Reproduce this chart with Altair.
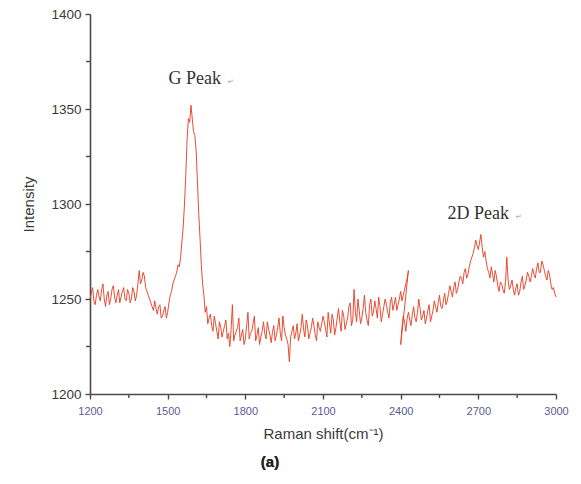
import altair as alt
import pandas as pd

# ---- data (Raman spectrum, two stitched segments) ----
STEP = 10
seg1_start = 1200   # first acquisition window: 1200 .. 2430 cm-1 (values at 1200, 1210, ...)
seg1_intensity = [
    1250, 1256, 1247, 1255, 1249, 1258, 1246, 1254, 1250, 1257,
    1248, 1255, 1251, 1256, 1249, 1253, 1250, 1254, 1252,
    1265, 1260, 1262, 1254, 1250, 1246, 1249, 1242, 1247, 1241,
    1246, 1243, 1252, 1258, 1262, 1268, 1272, 1288, 1315, 1345,
    1352, 1338, 1328, 1295, 1268, 1252, 1246,
    1240, 1236, 1241, 1233, 1238, 1230, 1236, 1229, 1225, 1247,
    1231, 1235, 1228, 1234, 1229, 1243, 1232, 1237, 1228, 1235,
    1230, 1238, 1229, 1234, 1227, 1236, 1231, 1240, 1228, 1235,
    1229, 1217, 1233, 1229, 1237, 1231, 1242, 1230, 1236, 1232,
    1240, 1231, 1238, 1233, 1241,
    1234, 1243, 1232, 1239, 1235, 1245, 1233, 1241, 1237, 1246,
    1236, 1255, 1238, 1244, 1240, 1252, 1239, 1247, 1241, 1249,
    1240, 1246, 1242, 1250, 1243, 1248, 1244, 1251, 1247, 1254,
    1252, 1258, 1265,
]
# readings half-way between (1205, 1215, ... 2425)
seg1_mid = [
    1253, 1249, 1252, 1251, 1255, 1250, 1252, 1247, 1255, 1251,
    1252, 1248, 1254, 1250, 1255, 1248, 1256, 1249,
    1258,
    1258, 1264, 1256, 1252, 1248, 1244, 1245, 1246, 1240, 1244,
    1240, 1248, 1254, 1260, 1264, 1267, 1280, 1300, 1334, 1343,
    1345, 1336, 1312, 1282, 1258, 1243,
    1237, 1242, 1233, 1237, 1229, 1235, 1233, 1239, 1232, 1234,
    1228, 1233, 1240, 1231, 1226, 1236, 1229, 1233, 1241, 1231,
    1226, 1233, 1232, 1238, 1231, 1233, 1228, 1235, 1232, 1241,
    1231, 1226, 1230, 1236, 1232, 1228, 1235, 1234, 1239, 1229,
    1235, 1236, 1228, 1235, 1237,
    1238, 1230, 1237, 1242, 1231, 1240, 1238, 1244, 1234, 1240,
    1248, 1239, 1243, 1250, 1237, 1245, 1243, 1236, 1250, 1243,
    1245, 1251, 1238, 1246, 1247, 1240, 1251, 1247, 1244, 1250,
    1249, 1255, 1261,
]
seg2_start = 2400   # second acquisition window: 2400 .. 3000 cm-1
seg2_intensity = [
    1226, 1241, 1233, 1243, 1236, 1246, 1238, 1250, 1239, 1244,
    1240, 1247, 1241, 1249, 1243, 1252, 1245, 1253, 1249, 1257,
    1251, 1259, 1255, 1262, 1258, 1266, 1263, 1270, 1274, 1281,
    1276, 1284, 1272, 1270, 1264, 1267, 1259, 1262, 1254, 1258,
    1253, 1272, 1255, 1260, 1252, 1258, 1254, 1262, 1257, 1264,
    1259, 1266, 1261, 1269, 1264, 1268, 1262, 1265, 1258, 1256,
    1251,
]
seg2_mid = [
    1235, 1238, 1240, 1239, 1242, 1240, 1243, 1245, 1241, 1237,
    1244, 1238, 1244, 1246, 1248, 1246, 1249, 1247, 1253, 1254,
    1256, 1253, 1259, 1261, 1264, 1261, 1267, 1272, 1277, 1278,
    1280, 1277, 1275, 1266, 1261, 1263, 1265, 1257, 1259, 1255,
    1259, 1260, 1257, 1255, 1256, 1252, 1259, 1255, 1260, 1262,
    1262, 1263, 1266, 1264, 1270, 1265, 1260, 1263, 1255, 1253,
]

x_major = [1200, 1500, 1800, 2100, 2400, 2700, 3000]
x_minor = [1350, 1650, 1950, 2250, 2550, 2850]
y_major = [1200, 1250, 1300, 1350, 1400]
y_minor = [1225, 1275, 1325, 1375]

ann_text = ["G Peak", "2D Peak"]
ann_x = [1605, 2700]
ann_y = [1366, 1295]
ann_mark_x = [1732, 2845]

# ---- build table (order follows acquisition, so the stitch overlap is drawn as in the original) ----
rows = []
idx = 0
for start, main, mid in [(seg1_start, seg1_intensity, seg1_mid),
                         (seg2_start, seg2_intensity, seg2_mid)]:
    pts = [(start + k * STEP, v) for k, v in enumerate(main)]
    pts += [(start + STEP // 2 + k * STEP, v) for k, v in enumerate(mid)]
    pts.sort()
    for s, v in pts:
        rows.append({"shift": s, "intensity": v, "order": idx})
        idx += 1
df = pd.DataFrame(rows)
ann = pd.DataFrame({"text": ann_text, "x": ann_x, "y": ann_y, "mx": ann_mark_x})
xminor_df = pd.DataFrame({"v": x_minor})
yminor_df = pd.DataFrame({"v": y_minor})

xscale = alt.Scale(domain=[1200, 3000], nice=False, zero=False)
yscale = alt.Scale(domain=[1200, 1400], nice=False, zero=False)

AX = "#4a4a4a"
common_axis = dict(domainColor=AX, domainWidth=1.6, tickColor=AX, tickWidth=1.4,
                   grid=False, labelFlush=False, labelOverlap=False, tickSize=5)

line = alt.Chart(df).mark_line(color="#e4442a", strokeWidth=1.0, opacity=0.95).encode(
    x=alt.X("shift:Q", scale=xscale,
            axis=alt.Axis(values=x_major, title="Raman shift(cm⁻¹)",
                          labelColor="#5b5b9c", labelFontSize=11, labelPadding=6,
                          labelFont="Liberation Sans", titleFont="Liberation Sans",
                          titleFontSize=15, titleFontWeight="normal", titleColor="#3a3a3a",
                          titlePadding=10, format="d", **common_axis)),
    y=alt.Y("intensity:Q", scale=yscale,
            axis=alt.Axis(values=y_major, title="Intensity",
                          labelColor="#3a3a3a", labelFontSize=13.5, labelPadding=4,
                          labelFont="Liberation Sans", titleFont="Liberation Sans",
                          titleFontSize=15, titleFontWeight="normal", titleColor="#3a3a3a",
                          titlePadding=14, format="d", **common_axis)),
    order=alt.Order("order:Q"),
)

xminor_ticks = alt.Chart(xminor_df).mark_rule(color=AX, strokeWidth=1.4).encode(
    x=alt.X("v:Q", scale=xscale), y=alt.value(380), y2=alt.value(384))
yminor_ticks = alt.Chart(yminor_df).mark_rule(color=AX, strokeWidth=1.4).encode(
    y=alt.Y("v:Q", scale=yscale), x=alt.value(-4), x2=alt.value(0))

labels = alt.Chart(ann).mark_text(font="Liberation Serif", fontSize=18, color="#333333",
                                  align="center", baseline="middle").encode(
    x=alt.X("x:Q", scale=xscale), y=alt.Y("y:Q", scale=yscale), text="text:N")

marks = alt.Chart(ann).mark_text(font="DejaVu Sans", fontSize=7, color="#9a9a9a",
                                 align="left", baseline="middle", dy=3, text="↵").encode(
    x=alt.X("mx:Q", scale=xscale), y=alt.Y("y:Q", scale=yscale))

caption = alt.Chart(ann).mark_text(text="(a)", font="Liberation Sans", fontSize=15,
                                   fontWeight="bold", color="#222222").encode(
    x=alt.value(180), y=alt.value(448))

chart = alt.layer(line, xminor_ticks, yminor_ticks, labels, marks, caption).properties(
    width=466, height=380, autosize="none",
    padding={"left": 82, "top": 6, "right": 17, "bottom": 84},
).configure_view(stroke=None)

chart.save("out.html", embed_options={"renderer": "svg", "actions": False})
